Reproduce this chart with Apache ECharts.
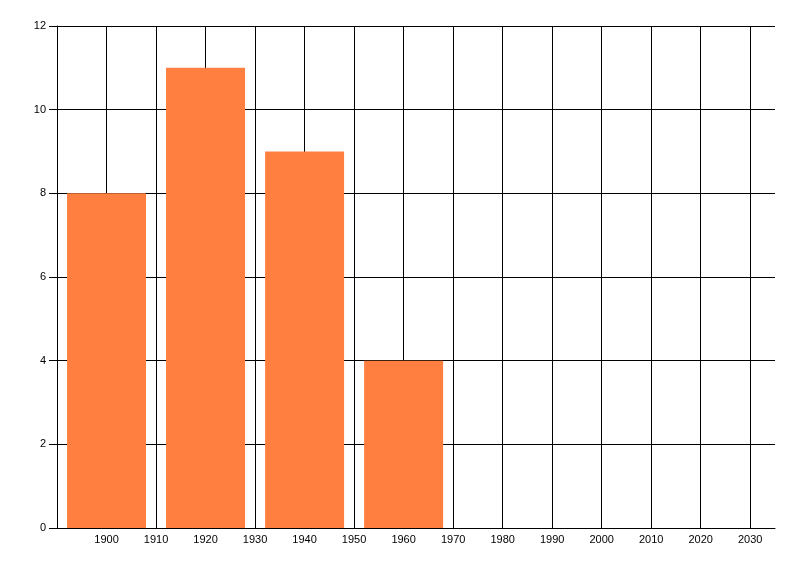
<!DOCTYPE html>
<html><head><meta charset="utf-8">
<script src="https://cdn.jsdelivr.net/npm/echarts@6/dist/echarts.min.js"></script>
<style>html,body{margin:0;padding:0;background:#fff}#c{width:800px;height:576px}</style>
</head><body><div id="c"></div>
<script>
const years = [1900, 1920, 1940, 1960];
const values = [8, 11, 9, 4];
const chart = echarts.init(document.getElementById('c'));
chart.setOption({
  animation: false,
  grid: {left: 57, right: 25, top: 26, bottom: 48, containLabel: false},
  xAxis: {
    type: 'value', min: 1890, max: 2035, interval: 10,
    axisLine: {show: true, lineStyle: {color: '#000', width: 1}},
    axisTick: {show: false},
    axisLabel: {color: '#000', fontFamily: 'Liberation Sans', fontSize: 11, margin: 6,
      formatter: v => (v === 1890 || v === 2035) ? '' : String(v)},
    splitLine: {show: true, showMaxLine: false, lineStyle: {color: '#000', width: 1}}
  },
  yAxis: {
    type: 'value', min: 0, max: 12, interval: 2,
    axisLine: {show: true, lineStyle: {color: '#000', width: 1}},
    axisTick: {show: true, inside: false, length: 8, lineStyle: {color: '#000'}},
    axisLabel: {color: '#000', fontFamily: 'Liberation Sans', fontSize: 11, margin: 11},
    splitLine: {show: true, lineStyle: {color: '#000', width: 1}}
  },
  series: [{
    type: 'bar',
    data: years.map((y, i) => [y, values[i]]),
    barWidth: 79,
    itemStyle: {color: '#FF7F40'}
  }]
});
</script></body></html>
